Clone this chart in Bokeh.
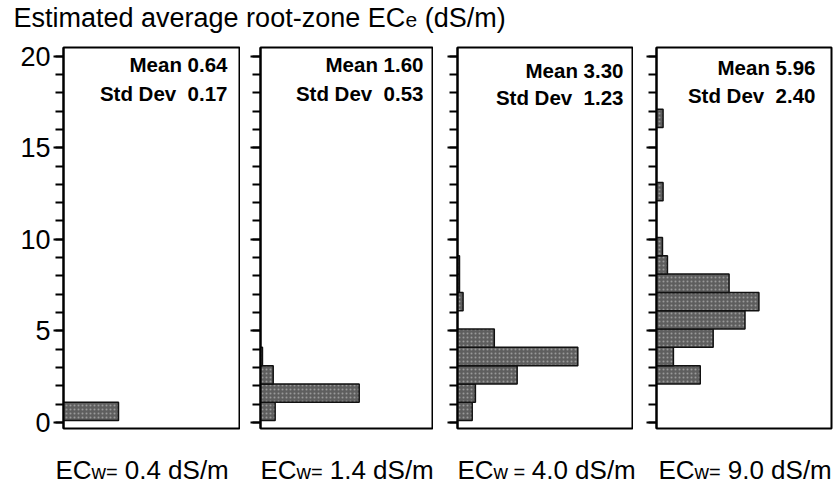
from bokeh.plotting import figure
from bokeh.layouts import column, row
from bokeh.models import Range1d, SingleIntervalTicker, ColumnDataSource, CustomJSTickFormatter
from bokeh.core.properties import value
from bokeh.embed import file_html
from bokeh.resources import INLINE

# ---------------- data ----------------
title_main = "Estimated average root-zone EC"
title_sub = "e"
title_tail = "\u00a0(dS/m)"

ecw_values = ["0.4", "1.4", "4.0", "9.0"]
ecw_sub = ["w=", "w=", "w =", "w="]

means = ["0.64", "1.60", "3.30", "5.96"]
stds = ["0.17", "0.53", "1.23", "2.40"]

# lower bin edges (dS/m) and bar lengths (relative counts) per panel
bins1 = [0.1]
counts1 = [13.75]
bins2 = [0.1, 1.1, 2.1, 3.1]
counts2 = [3.75, 25.25, 3.25, 0.5]
bins3 = [0.1, 1.1, 2.1, 3.1, 4.1, 6.1, 7.1, 8.1]
counts3 = [3.7, 4.5, 15.0, 30.25, 9.25, 1.4, 0.5, 0.5]
bins4 = [2.1, 3.1, 4.1, 5.1, 6.1, 7.1, 8.1, 9.1, 12.1, 16.1]
counts4 = [11.0, 4.25, 14.25, 22.25, 25.75, 18.25, 2.75, 1.5, 1.65, 1.65]
bin_width = 1.0

y_ticks_major = 5
XMAX = 44
YMIN, YMAX = -0.33, 20.47

FONT = value("Liberation Sans")

panels = [
    # bins, counts, fig width, border left, border right, labels, text right offset px, mean baseline px, std baseline px
    (bins1, counts1, 240, 63, 1, True, 12, 17, 46),
    (bins2, counts2, 193, 20, 1, False, 9, 17, 46),
    (bins3, counts3, 200, 24, 1, False, 9, 23, 50),
    (bins4, counts4, 200, 23, 2, False, 16, 20, 48),
]

FRAME_H = 381
figs = []
for i, (bins, counts, w, bl, br, labels, toff, mb, sb) in enumerate(panels):
    fw = w - bl - br
    p = figure(width=w, height=403, x_range=Range1d(0, XMAX), y_range=Range1d(YMIN, YMAX),
               x_axis_location=None, toolbar_location=None, output_backend="svg", title=None,
               min_border_left=bl, min_border_right=br, min_border_top=12, min_border_bottom=10,
               background_fill_color="white", border_fill_color="white")
    p.grid.visible = False
    p.outline_line_color = "black"
    p.outline_line_width = 2
    src = ColumnDataSource(dict(bottom=bins, top=[b + bin_width for b in bins], right=counts))
    p.quad(left=0, right="right", bottom="bottom", top="top", source=src,
           fill_color="#5e5e5e", line_color="#111111", line_width=1.5,
           hatch_pattern="dot", hatch_color="#9a9a9a", hatch_scale=4, hatch_weight=1)
    ax = p.yaxis[0]
    ax.ticker = SingleIntervalTicker(interval=y_ticks_major, num_minor_ticks=5)
    ax.axis_line_width = 2
    ax.axis_line_color = "black"
    ax.major_tick_line_width = 2
    ax.minor_tick_line_width = 2
    ax.major_tick_out = 10
    ax.major_tick_in = 0
    ax.minor_tick_out = 8
    ax.minor_tick_in = 0
    ax.major_tick_line_color = "black"
    ax.minor_tick_line_color = "black"
    if labels:
        ax.major_label_text_font = "Liberation Sans"
        ax.major_label_text_font_size = "27px"
        ax.major_label_text_color = "black"
        ax.major_label_standoff = 3
    else:
        ax.formatter = CustomJSTickFormatter(code="return ''")
        ax.major_label_standoff = 0
    # stats text
    xr = XMAX * (1 - toff / fw)
    ym = YMAX - mb * (YMAX - YMIN) / FRAME_H
    ys = YMAX - sb * (YMAX - YMIN) / FRAME_H
    p.text(x=[xr, xr], y=[ym, ys],
           text=["Mean " + means[i], "Std Dev\u00a0 " + stds[i]],
           text_font=FONT, text_font_size=value("20.5px"), text_font_style="bold",
           text_align="right", text_baseline="alphabetic", text_color="black")
    figs.append(p)

# ---------------- title strip ----------------
t = figure(width=833, height=35, x_range=Range1d(0, 833), y_range=Range1d(0, 35),
           x_axis_location=None, y_axis_location=None, toolbar_location=None,
           output_backend="svg", min_border=0, title=None)
t.grid.visible = False
t.outline_line_color = None
TY = 18
t.text(x=[13], y=[TY], text=[title_main], text_font=FONT, text_font_size=value("27px"),
       text_baseline="alphabetic", text_color="black")
t.text(x=[405], y=[TY - 2.2], text=[title_sub], text_font=FONT, text_font_size=value("21px"),
       text_baseline="alphabetic", text_color="black")
t.text(x=[416.7], y=[TY], text=[title_tail], text_font=FONT, text_font_size=value("27px"),
       text_baseline="alphabetic", text_color="black")

# ---------------- bottom labels ----------------
b = figure(width=833, height=47, x_range=Range1d(0, 833), y_range=Range1d(0, 47),
           x_axis_location=None, y_axis_location=None, toolbar_location=None,
           output_backend="svg", min_border=0, title=None)
b.grid.visible = False
b.outline_line_color = None
lefts = [55, 260, 457, 658]
sub_w = [26, 26, 31, 26]
BY = 15.5
for i in range(4):
    x0 = lefts[i]
    b.text(x=[x0], y=[BY], text=["EC"], text_font=FONT, text_font_size=value("26px"),
           text_baseline="alphabetic", text_color="black")
    b.text(x=[x0 + 36], y=[BY - 2.2], text=[ecw_sub[i]], text_font=FONT, text_font_size=value("20px"),
           text_baseline="alphabetic", text_color="black")
    b.text(x=[x0 + 36 + sub_w[i]], y=[BY], text=["\u00a0" + ecw_values[i] + " dS/m"], text_font=FONT,
           text_font_size=value("26px"), text_baseline="alphabetic", text_color="black")

layout = column(t, row(*figs, spacing=0), b, spacing=0)
open("out.html", "w").write(file_html(layout, INLINE))
